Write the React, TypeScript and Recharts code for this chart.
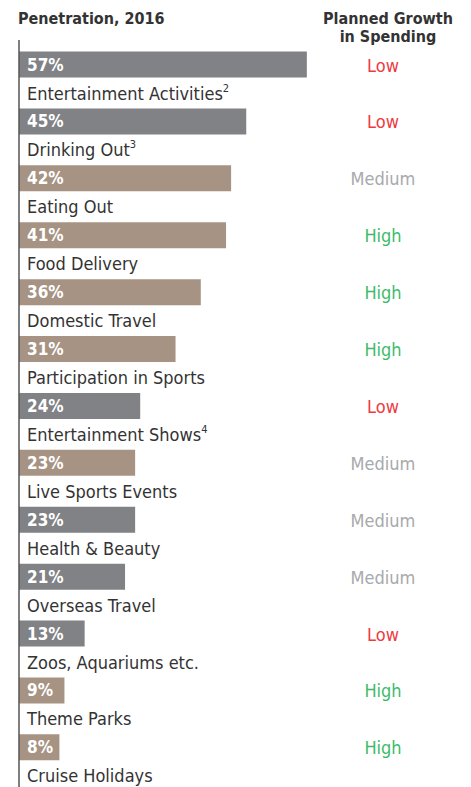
import { BarChart, Bar, XAxis, YAxis, Cell, LabelList } from "recharts";

const CHART_WIDTH = 471;
const CHART_HEIGHT = 787;
const FONT = '"Liberation Sans Narrow", "DejaVu Sans Condensed", "Roboto", sans-serif';

const categories = [
  "Entertainment Activities",
  "Drinking Out",
  "Eating Out",
  "Food Delivery",
  "Domestic Travel",
  "Participation in Sports",
  "Entertainment Shows",
  "Live Sports Events",
  "Health & Beauty",
  "Overseas Travel",
  "Zoos, Aquariums etc.",
  "Theme Parks",
  "Cruise Holidays",
];
const footnotes = ["2", "3", "", "", "", "", "4", "", "", "", "", "", ""];
const penetration = [57, 45, 42, 41, 36, 31, 24, 23, 23, 21, 13, 9, 8];
const groups = ["ent", "ent", "food", "food", "food", "food", "ent", "food", "ent", "ent", "ent", "food", "food"];
const growth = ["Low", "Low", "Medium", "High", "High", "High", "Low", "Medium", "Medium", "Medium", "Low", "High", "High"];

const BAR_COLORS: Record<string, string> = { ent: "#818285", food: "#a69383" };
const GROWTH_COLORS: Record<string, string> = { Low: "#ee3a43", Medium: "#a7a9ac", High: "#3dbb6c" };

const data = categories.map((name, i) => ({
  name,
  note: footnotes[i],
  value: penetration[i],
  group: groups[i],
  growth: growth[i],
}));

const ValueLabel = (props: any) => {
  const { x, y, height, value } = props;
  return (
    <text x={x + 8} y={y + height / 2 + 6} fill="#fff" fontSize={17} fontWeight="bold" fontFamily={FONT}>
      {value}%
    </text>
  );
};

const NameLabel = (props: any) => {
  const { x, y, height, index } = props;
  const row = data[index];
  return (
    <text x={x + 8} y={y + height + 22} fill="#333" fontSize={18} fontFamily={FONT}>
      {row.name}
      {row.note && (
        <tspan fontSize={11} dy={-8}>
          {row.note}
        </tspan>
      )}
    </text>
  );
};

const GrowthLabel = (props: any) => {
  const { x, y, height, value } = props;
  return (
    <text
      x={x + 364}
      y={y + height / 2 + 7}
      fill={GROWTH_COLORS[value]}
      fontSize={18}
      textAnchor="middle"
      fontFamily={FONT}
    >
      {value}
    </text>
  );
};

const headStyle = {
  position: "absolute" as const,
  fontFamily: FONT,
  fontWeight: "bold" as const,
  fontSize: 16,
  color: "#333",
  lineHeight: "18px",
};

export default function App() {
  return (
    <div style={{ position: "absolute", left: 0, top: 0, width: CHART_WIDTH, height: CHART_HEIGHT, background: "#fff" }}>
      <div style={{ ...headStyle, left: 18, top: 10 }}>Penetration, 2016</div>
      <div style={{ ...headStyle, left: 318, top: 10, width: 140, textAlign: "center" }}>
        Planned Growth
        <br />
        in Spending
      </div>
      <BarChart
        width={CHART_WIDTH}
        height={CHART_HEIGHT}
        data={data}
        layout="vertical"
        margin={{ top: 40, right: 48, bottom: 0, left: 18 }}
        style={{ position: "absolute", left: 0, top: 0 }}
      >
        <XAxis type="number" domain={[0, 80]} hide />
        <YAxis
          type="category"
          dataKey="name"
          width={1}
          tick={false}
          tickLine={false}
          axisLine={{ stroke: "#555", strokeWidth: 1.5 }}
          padding={{ top: -3.45, bottom: 10.75 }}
        />
        <Bar dataKey="value" barSize={26} isAnimationActive={false}>
          {data.map((d) => (
            <Cell key={d.name} fill={BAR_COLORS[d.group]} />
          ))}
          <LabelList dataKey="value" content={ValueLabel} />
          <LabelList dataKey="name" content={NameLabel} />
          <LabelList dataKey="growth" content={GrowthLabel} />
        </Bar>
      </BarChart>
    </div>
  );
}
